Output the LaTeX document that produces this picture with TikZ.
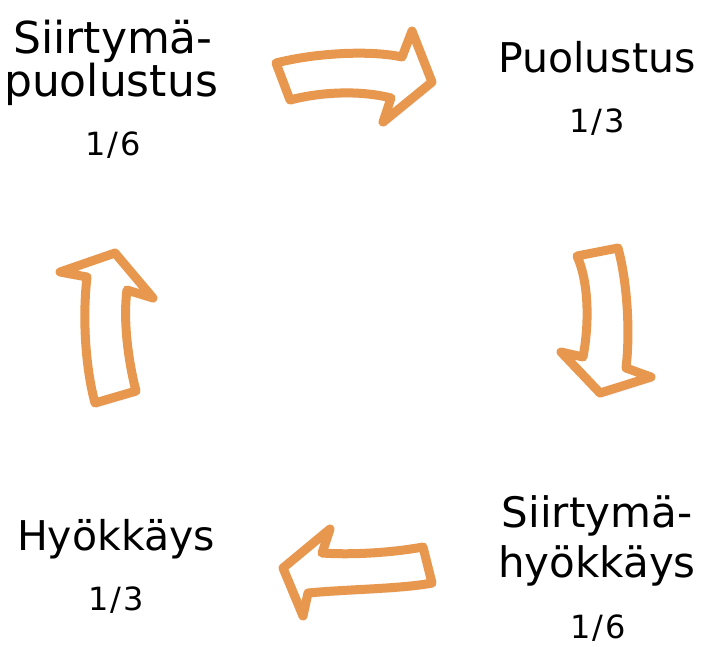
\documentclass[tikz,border=0pt]{standalone}
\usepackage{fontspec}
\setmainfont{DejaVu Sans}
\usetikzlibrary{shadows.blur}
\definecolor{arroworange}{RGB}{232,152,78}
\tikzset{
  cyclearrow/.style={draw=arroworange, fill=white, line width=9pt, line join=round,
    blur shadow={shadow xshift=2pt, shadow yshift=-3pt, shadow blur steps=6, shadow opacity=30}},
  bigtext/.style={anchor=base, inner sep=0pt, font=\fontsize{41}{41}\selectfont},
  bigtextbr/.style={anchor=base, inner sep=0pt, font=\fontsize{42}{42}\selectfont},
  bigtexttl/.style={anchor=base, inner sep=0pt, font=\fontsize{44}{44}\selectfont},
  frac/.style={anchor=base, inner sep=0pt, font=\fontsize{32}{32}\selectfont}
}
\newcommand{\fr}[2]{#1\kern2pt/\kern2pt#2}
\begin{document}
\begin{tikzpicture}[x=1pt,y=-1pt]
\useasboundingbox (0,0) rectangle (704,646);
% labels
\node[bigtexttl] (tl1) at (113,53) {Siirtymä-};
\node[bigtexttl] (tl2) at (111,96) {puolustus};
\node[frac] (tl3) at (113,155) {\fr{1}{6}};
\node[bigtext] (tr1) at (597,72) {Puolustus};
\node[frac] (tr2) at (597,132) {\fr{1}{3}};
\node[bigtextbr] (br1) at (597,527) {Siirtymä-};
\node[bigtextbr] (br2) at (597,577) {hyökkäys};
\node[frac] (br3) at (598,638) {\fr{1}{6}};
\node[bigtext] (bl1) at (116,550) {Hyökkäys};
\node[frac] (bl2) at (116,610) {\fr{1}{3}};
% top arrow (right)
\path[cyclearrow] (276,63) .. controls (315,53) and (370,50) .. (402,57)
  -- (412,31) -- (432,82) -- (383,122) -- (391,98)
  .. controls (360,90) and (320,92) .. (290,100) -- cycle;
% right arrow (down)
\path[cyclearrow] (577,256) -- (618,248)
  .. controls (628,285) and (630,335) .. (626,368)
  -- (651,377) -- (600,393) -- (561,352) -- (583,357)
  .. controls (590,320) and (588,280) .. cycle;
% bottom arrow (left)
\path[cyclearrow] (423,547) -- (432,583)
  .. controls (400,589) and (350,589) .. (308,593)
  -- (303,616) -- (283,568) -- (330,529) -- (322,553)
  .. controls (350,555) and (390,553) .. cycle;
% left arrow (up)
\path[cyclearrow] (95,403) -- (136,391)
  .. controls (128,360) and (123,320) .. (127,290)
  -- (153,298) -- (115,253) -- (60,272) -- (87,277)
  .. controls (82,320) and (86,370) .. cycle;
\end{tikzpicture}
\end{document}
